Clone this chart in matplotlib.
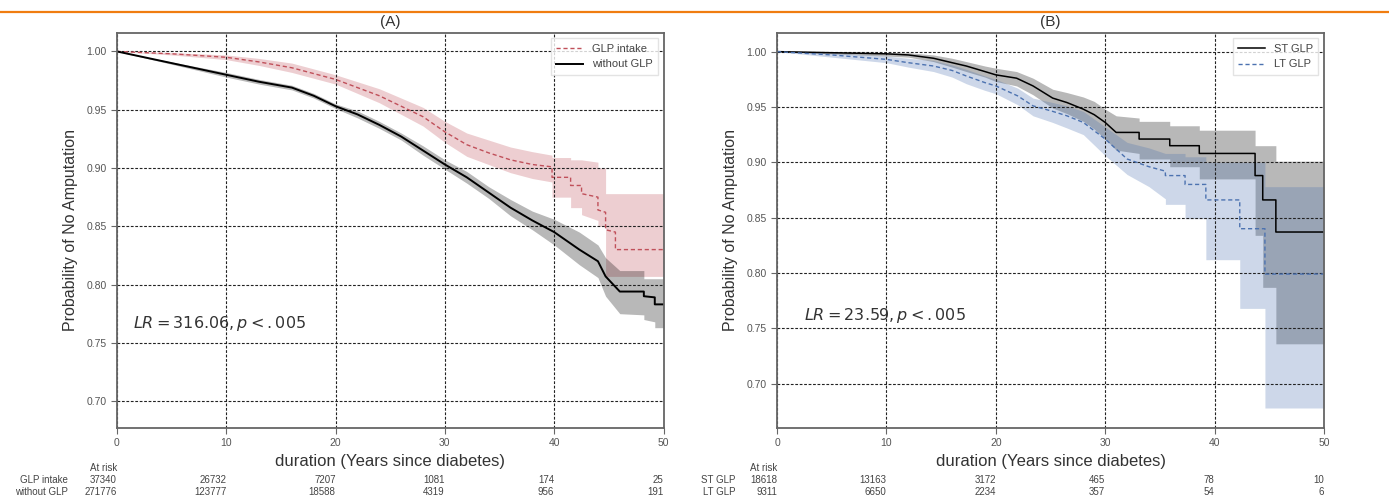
import matplotlib
matplotlib.use("Agg")
import matplotlib.pyplot as plt
from matplotlib.lines import Line2D

plt.rcParams['font.family'] = ['Liberation Sans', 'DejaVu Sans']

# ---- panel A : GLP intake vs without GLP ----
# repeated times mark the visible steps of the KM curves
glp_t = [0, 5, 10, 13, 16, 18, 20, 22, 24, 26, 28, 30, 32, 34, 36, 38, 39.8, 39.8, 41.5,
         41.5, 42.5, 42.5, 44, 44, 44.7, 44.7, 45.6, 45.6, 50]
glp_s = [1.0, 0.998, 0.995, 0.991, 0.986, 0.981, 0.976, 0.969, 0.962, 0.953, 0.944, 0.931,
         0.920, 0.913, 0.907, 0.903, 0.901, 0.892, 0.892, 0.885, 0.885, 0.878, 0.875, 0.864,
         0.862, 0.847, 0.845, 0.830, 0.830]
glp_hi = [1.0, 0.999, 0.997, 0.994, 0.990, 0.985, 0.980, 0.974, 0.968, 0.960, 0.952, 0.940,
          0.930, 0.924, 0.918, 0.914, 0.911, 0.909, 0.909, 0.907, 0.907, 0.907, 0.905, 0.900,
          0.900, 0.878, 0.878, 0.878, 0.878]
glp_lo = [1.0, 0.997, 0.993, 0.988, 0.982, 0.977, 0.972, 0.964, 0.956, 0.946, 0.936, 0.922,
          0.910, 0.903, 0.896, 0.891, 0.888, 0.875, 0.875, 0.866, 0.866, 0.860, 0.855, 0.850,
          0.850, 0.807, 0.807, 0.807, 0.807]

nog_t = [0, 5, 10, 13, 16, 18, 20, 22, 24, 26, 28, 30, 32, 34, 36, 38, 40, 42.3, 44, 44.7,
         46, 48.2, 48.2, 49.2, 49.2, 50]
nog_s = [1.0, 0.990, 0.980, 0.974, 0.969, 0.962, 0.953, 0.946, 0.937, 0.927, 0.915, 0.903,
         0.892, 0.879, 0.866, 0.855, 0.845, 0.830, 0.820, 0.807, 0.794, 0.794, 0.790, 0.789,
         0.783, 0.783]
nog_hi = [1.0, 0.991, 0.982, 0.976, 0.971, 0.964, 0.955, 0.949, 0.940, 0.930, 0.919, 0.907,
          0.897, 0.884, 0.873, 0.863, 0.856, 0.845, 0.834, 0.823, 0.812, 0.812, 0.805, 0.805,
          0.805, 0.805]
nog_lo = [1.0, 0.989, 0.978, 0.972, 0.967, 0.960, 0.951, 0.943, 0.934, 0.924, 0.911, 0.899,
          0.887, 0.874, 0.859, 0.847, 0.834, 0.817, 0.806, 0.790, 0.775, 0.774, 0.770, 0.768,
          0.763, 0.763]

# ---- panel B : ST GLP vs LT GLP ----
st_t = [0, 5, 10, 12, 14.3, 16, 17.3, 19, 20, 21.9, 23.4, 25.2, 26.5, 28, 29, 30, 31,
        33.1, 33.1, 35.9, 35.9, 38.6, 38.6, 43.7, 43.7, 44.4, 44.4, 45.6, 45.6, 50]
st_s = [1.0, 0.999, 0.998, 0.997, 0.994, 0.990, 0.987, 0.982, 0.979, 0.976, 0.969, 0.958,
        0.954, 0.948, 0.943, 0.936, 0.927, 0.927, 0.921, 0.921, 0.915, 0.915, 0.908, 0.908,
        0.888, 0.888, 0.866, 0.866, 0.837, 0.837]
st_hi = [1.0, 1.0, 0.999, 0.999, 0.997, 0.994, 0.991, 0.987, 0.985, 0.982, 0.976, 0.966,
         0.963, 0.959, 0.955, 0.948, 0.942, 0.940, 0.937, 0.937, 0.933, 0.933, 0.929, 0.929,
         0.915, 0.915, 0.915, 0.915, 0.901, 0.901]
st_lo = [1.0, 0.998, 0.996, 0.995, 0.991, 0.986, 0.982, 0.977, 0.973, 0.969, 0.961, 0.949,
         0.944, 0.937, 0.930, 0.921, 0.911, 0.908, 0.903, 0.903, 0.896, 0.896, 0.885, 0.885,
         0.834, 0.834, 0.787, 0.787, 0.736, 0.736]

lt_t = [0, 5, 10, 12, 14.3, 16, 17.3, 19, 20, 22, 23.4, 25.2, 26.5, 28, 30, 32, 34, 35.5,
        35.5, 37.3, 37.3, 39.2, 39.2, 42.3, 42.3, 44.6, 44.6, 50]
lt_s = [1.0, 0.997, 0.993, 0.990, 0.987, 0.983, 0.978, 0.972, 0.969, 0.960, 0.951, 0.946,
        0.942, 0.936, 0.921, 0.903, 0.896, 0.892, 0.888, 0.888, 0.880, 0.880, 0.866, 0.866,
        0.840, 0.840, 0.799, 0.799]
lt_hi = [1.0, 0.999, 0.996, 0.994, 0.992, 0.988, 0.984, 0.978, 0.975, 0.967, 0.958, 0.954,
         0.951, 0.946, 0.932, 0.918, 0.913, 0.908, 0.908, 0.908, 0.905, 0.905, 0.900, 0.900,
         0.900, 0.900, 0.878, 0.878]
lt_lo = [1.0, 0.995, 0.990, 0.986, 0.982, 0.977, 0.971, 0.965, 0.962, 0.952, 0.942, 0.936,
         0.931, 0.925, 0.906, 0.889, 0.878, 0.867, 0.862, 0.862, 0.849, 0.849, 0.812, 0.812,
         0.768, 0.768, 0.678, 0.678]

# at-risk tables
risk_ticks = [0, 10, 20, 30, 40, 50]
glp_risk = [37340, 26732, 7207, 1081, 174, 25]
nog_risk = [271776, 123777, 18588, 4319, 956, 191]
st_risk = [18618, 13163, 3172, 465, 78, 10]
lt_risk = [9311, 6650, 2234, 357, 54, 6]

RED = '#c0505a'
BLUE = '#4c72b0'
GRAY_TXT = '#555555'

fig = plt.figure(figsize=(13.89, 4.97), dpi=100)
ax1 = fig.add_axes([0.0842, 0.139, 0.3935, 0.795])
ax2 = fig.add_axes([0.5594, 0.139, 0.3938, 0.795])

# orange rule at top (page header remnant)
fig.add_artist(Line2D([0, 1], [0.975, 0.975], transform=fig.transFigure,
                      color='#f07d10', lw=1.6))


def km(ax, t, s, lo, hi, color, ls, lw, label, alpha):
    ax.fill_between(t, lo, hi, color=color, alpha=alpha, lw=0)
    ax.plot(t, s, color=color, ls=ls, lw=lw, label=label)


km(ax1, glp_t, glp_s, glp_lo, glp_hi, RED, (0, (3, 2)), 1.0, 'GLP intake', 0.28)
km(ax1, nog_t, nog_s, nog_lo, nog_hi, 'black', '-', 1.4, 'without GLP', 0.28)
km(ax2, st_t, st_s, st_lo, st_hi, 'black', '-', 1.1, 'ST GLP', 0.28)
km(ax2, lt_t, lt_s, lt_lo, lt_hi, BLUE, (0, (3, 2)), 1.0, 'LT GLP', 0.28)


def style(ax, ylim, title, lr_text, lr_xy, rows, labels, label_x):
    ax.set_xlim(0, 50)
    ax.set_ylim(*ylim)
    ax.set_xticks(risk_ticks)
    ax.set_yticks([0.70, 0.75, 0.80, 0.85, 0.90, 0.95, 1.00])
    ax.yaxis.set_major_formatter(matplotlib.ticker.FormatStrFormatter('%.2f'))
    ax.grid(True, color='#222222', ls=(0, (2.5, 1.5)), lw=0.8)
    for sp in ax.spines.values():
        sp.set_color('#666666')
        sp.set_linewidth(1.3)
    ax.tick_params(labelsize=7.5, labelcolor=GRAY_TXT, color='#666666', length=4)
    ax.set_title(title, fontsize=11, color='#333333', pad=5)
    ax.set_ylabel('Probability of No Amputation', fontsize=11.5, color='#333333', labelpad=6)
    ax.set_xlabel('duration (Years since diabetes)', fontsize=12, color='#333333', labelpad=4)
    ax.text(lr_xy[0], lr_xy[1], lr_text, fontsize=11.5, color='#333333',
            family='DejaVu Sans', va='center')
    leg = ax.legend(loc='upper right', fontsize=8, frameon=True, fancybox=False,
                    handlelength=2.4, borderpad=0.5, labelspacing=0.5)
    leg.get_frame().set_edgecolor('#dddddd')
    for txt in leg.get_texts():
        txt.set_color('#444444')

    tr = ax.get_xaxis_transform()
    ax.text(0, -0.101, 'At risk', transform=tr, ha='right', va='center',
            fontsize=7, color='#444444')
    for yy, row, lab in zip([-0.132, -0.162], rows, labels):
        ax.text(label_x, yy, lab, transform=tr, ha='right', va='center',
                fontsize=7, color='#444444', clip_on=False)
        for xt, n in zip(risk_ticks, row):
            ax.text(xt, yy, str(n), transform=tr, ha='right', va='center',
                    fontsize=7, color='#444444')


style(ax1, (0.677, 1.016), '(A)', r'$LR = 316.06, p < .005$', (1.45, 0.767),
      [glp_risk, nog_risk], ['GLP intake', 'without GLP'], -4.5)
style(ax2, (0.660, 1.017), '(B)', r'$LR = 23.59, p < .005$', (2.5, 0.762),
      [st_risk, lt_risk], ['ST GLP', 'LT GLP'], -3.8)

fig.savefig('out.png', dpi=100)
